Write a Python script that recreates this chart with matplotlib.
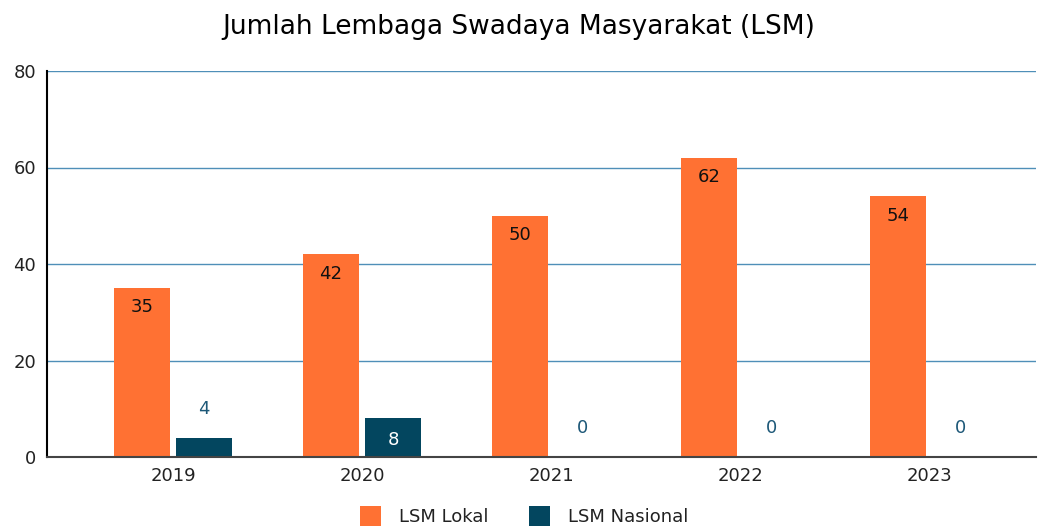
import numpy as np
import matplotlib.pyplot as plt

tahun = ['2019', '2020', '2021', '2022', '2023']
lokal = [35, 42, 50, 62, 54]
nasional = [4, 8, 0, 0, 0]

c_lokal = '#FF7133'
c_nas = '#03465F'

# huruf di gambar asli agak lebar, DejaVu Sans paling mendekati
plt.rcParams['font.family'] = ['DejaVu Sans']

fig = plt.figure(figsize=(10.38, 5.28), dpi=100)
ax = fig.add_axes([47 / 1038, 1 - 457 / 528, (1036 - 47) / 1038, (457 - 71) / 528])

x = np.arange(len(tahun))
w = 0.30
off = 0.164
b1 = ax.bar(x - off, lokal, w, color=c_lokal, label='LSM Lokal', zorder=3)
b2 = ax.bar(x + off, nasional, w, color=c_nas, label='LSM Nasional', zorder=3)

for xi, v in zip(x, lokal):
    ax.text(xi - off, v - 4, str(v), ha='center', va='center', fontsize=13, color='#111111', zorder=4)
for xi, v in zip(x, nasional):
    if v >= 8:
        ax.text(xi + off, v - 4.5, str(v), ha='center', va='center', fontsize=13, color='white', zorder=4)
    else:
        ax.text(xi + off, v + 6, str(v), ha='center', va='center', fontsize=13, color='#1d5878', zorder=4)

ax.set_ylim(0, 80)
ax.set_xlim(-0.667, 4.566)
ax.set_yticks([0, 20, 40, 60, 80])
ax.set_xticks(x)
ax.set_xticklabels(tahun)
ax.tick_params(axis='both', length=0, labelsize=13, colors='#222222')
ax.tick_params(axis='x', pad=7)
ax.tick_params(axis='y', pad=8)
ax.grid(axis='y', color='#4f8fb8', linewidth=1, zorder=0)
for s in ['top', 'right']:
    ax.spines[s].set_visible(False)
ax.spines['left'].set_color('black')
ax.spines['left'].set_linewidth(1.5)
ax.spines['bottom'].set_color('#444444')
ax.spines['bottom'].set_linewidth(1.5)
ax.spines['left'].set_zorder(5)
ax.spines['bottom'].set_zorder(5)

fig.text(0.5, 1 - 27 / 528, 'Jumlah Lembaga Swadaya Masyarakat (LSM)', ha='center', va='center',
         fontsize=19, color='black')

fig.legend(handles=[b1, b2], loc='center', bbox_to_anchor=(0.505, 1 - 516 / 528), ncol=2, frameon=False,
           fontsize=13, handlelength=1.2, handleheight=1.3, columnspacing=2.2, handletextpad=1.0,
           labelcolor='#222222')

plt.savefig('out.png', dpi=100)
